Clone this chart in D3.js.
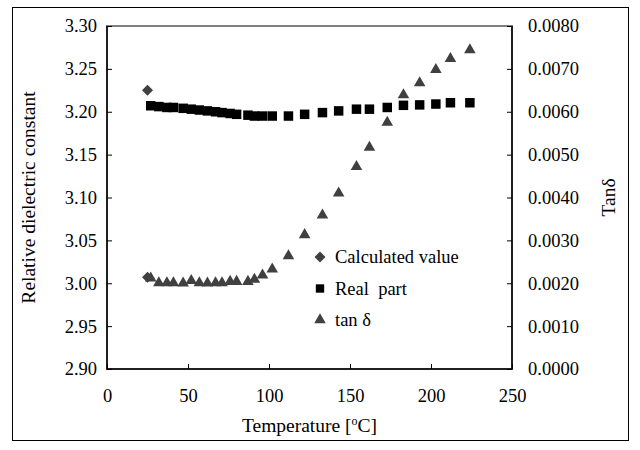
<!DOCTYPE html>
<html>
<head>
<meta charset="utf-8">
<script src="https://cdn.jsdelivr.net/npm/d3@7"></script>
<style>
  body { margin: 0; background: #fff; }
  svg text { font-family: "Liberation Serif", "Times New Roman", serif; fill: #000; }
</style>
</head>
<body>
<svg id="chart" width="640" height="450"></svg>
<script>
// Data
const temps = [27, 32, 37, 41, 47, 52, 57, 62, 67, 71, 76, 80, 87, 91, 96, 102,
               112, 122, 133, 143, 154, 162, 173, 183, 193, 203, 212, 224];
const realPart = [3.207, 3.206, 3.205, 3.205, 3.204, 3.203, 3.202, 3.201, 3.200, 3.199, 3.198, 3.197, 3.196, 3.195, 3.195, 3.195,
                  3.195, 3.197, 3.199, 3.201, 3.203, 3.203, 3.205, 3.2075, 3.208, 3.209, 3.2105, 3.2105];
const tanDelta = [0.00212, 0.00201, 0.00201, 0.00201, 0.00200, 0.00206, 0.00201, 0.00200, 0.00201, 0.00201, 0.00204, 0.00204, 0.00204, 0.00209, 0.00219, 0.00233,
                  0.00264, 0.00313, 0.00359, 0.00410, 0.00472, 0.00517, 0.00575, 0.00639, 0.00667, 0.00698, 0.00724, 0.00744];
// Calculated value: one point on each axis at 25 C
const calcEps = [{ t: 25, v: 3.225 }];
const calcTan = [{ t: 25, v: 0.00214 }];

const xTicks = [0, 50, 100, 150, 200, 250];
const yLeftTicks = [2.90, 2.95, 3.00, 3.05, 3.10, 3.15, 3.20, 3.25, 3.30];
const yRightTicks = [0, 0.001, 0.002, 0.003, 0.004, 0.005, 0.006, 0.007, 0.008];
const legendItems = [
  { label: "Calculated value", shape: "diamond", color: "#404040" },
  { label: "Real\u00a0 part", shape: "square", color: "#000" },
  { label: "tan \u03b4", shape: "triangle", color: "#404040" }
];

const plot = { left: 107, right: 512, top: 26, bottom: 369 };
const fontSize = 18.5;
const titleSize = 19.5;

const svg = d3.select("#chart");

// outer chart frame
svg.append("rect").attr("x", 12.5).attr("y", 7.5).attr("width", 616).attr("height", 433)
  .attr("fill", "#fff").attr("stroke", "#000").attr("stroke-width", 1);

const x = d3.scaleLinear().domain([0, 250]).range([plot.left, plot.right]);
const yL = d3.scaleLinear().domain([2.90, 3.30]).range([plot.bottom, plot.top]);
const yR = d3.scaleLinear().domain([0, 0.008]).range([plot.bottom, plot.top]);

// plot area border (grey), axes drawn on top in black
svg.append("rect").attr("x", plot.left).attr("y", plot.top)
  .attr("width", plot.right - plot.left).attr("height", plot.bottom - plot.top)
  .attr("fill", "none").attr("stroke", "#808080").attr("stroke-width", 2);

function styleAxis(g) {
  g.select(".domain").remove();
  g.selectAll(".tick line").attr("stroke", "#000").attr("stroke-width", 1);
  g.selectAll("text").attr("font-size", fontSize).attr("font-family", "Liberation Serif");
}

svg.append("g").attr("transform", `translate(${plot.left},0)`)
  .call(d3.axisLeft(yL).tickValues(yLeftTicks).tickSize(-5).tickPadding(10).tickFormat(d3.format(".2f")))
  .call(styleAxis);

svg.append("g").attr("transform", `translate(${plot.right},0)`)
  .call(d3.axisRight(yR).tickValues(yRightTicks).tickSize(-5).tickPadding(16).tickFormat(d3.format(".4f")))
  .call(styleAxis);

svg.append("g").attr("transform", `translate(0,${plot.bottom})`)
  .call(d3.axisBottom(x).tickValues(xTicks).tickSize(-5).tickPadding(20).tickFormat(d3.format("d")))
  .call(styleAxis);

// axis lines
svg.append("path")
  .attr("d", d3.line()([[plot.left, plot.top], [plot.left, plot.bottom], [plot.right, plot.bottom], [plot.right, plot.top]]))
  .attr("fill", "none").attr("stroke", "#000").attr("stroke-width", 1.5);

// markers
const shapes = {
  square: d3.symbol().type(d3.symbolSquare).size(90)(),
  triangle: d3.symbol().type(d3.symbolTriangle).size(58)(),
  diamond: "M0,-5.5L5.5,0L0,5.5L-5.5,0Z"
};

svg.append("g").selectAll("path")
  .data(temps.map((t, i) => ({ t, v: realPart[i] })))
  .join("path")
  .attr("transform", d => `translate(${x(d.t)},${yL(d.v)})`)
  .attr("d", shapes.square)
  .attr("fill", "#000");

svg.append("g").selectAll("path")
  .data(temps.map((t, i) => ({ t, v: tanDelta[i] })))
  .join("path")
  .attr("transform", d => `translate(${x(d.t)},${yR(d.v)})`)
  .attr("d", shapes.triangle)
  .attr("fill", "#404040");

svg.append("g").selectAll("path")
  .data(calcEps.map(d => ({ px: x(d.t), py: yL(d.v) })).concat(calcTan.map(d => ({ px: x(d.t), py: yR(d.v) }))))
  .join("path")
  .attr("transform", d => `translate(${d.px},${d.py})`)
  .attr("d", shapes.diamond)
  .attr("fill", "#404040");

// legend
const legend = svg.append("g").attr("transform", "translate(320,257)");
const li = legend.selectAll("g").data(legendItems).join("g")
  .attr("transform", (d, i) => `translate(0,${i * 31.5})`);
li.append("path").attr("d", d => d.shape === "square" ? d3.symbol().type(d3.symbolSquare).size(70)() : shapes[d.shape])
  .attr("fill", d => d.color);
li.append("text").attr("x", 15).attr("y", 6).attr("font-size", fontSize).text(d => d.label);

// axis titles
const xt = svg.append("text").attr("x", (plot.left + plot.right) / 2).attr("y", 432)
  .attr("text-anchor", "middle").attr("font-size", titleSize);
xt.append("tspan").text("Temperature [");
xt.append("tspan").attr("font-size", 12).attr("dy", -7).text("o");
xt.append("tspan").attr("dy", 7).text("C]");

svg.append("text").attr("transform", `translate(35,${(plot.top + plot.bottom) / 2}) rotate(-90)`)
  .attr("text-anchor", "middle").attr("font-size", titleSize).text("Relative dielectric constant");

svg.append("text").attr("transform", `translate(615,${(plot.top + plot.bottom) / 2}) rotate(-90)`)
  .attr("text-anchor", "middle").attr("font-size", titleSize).text("Tan\u03b4");
</script>
</body>
</html>
